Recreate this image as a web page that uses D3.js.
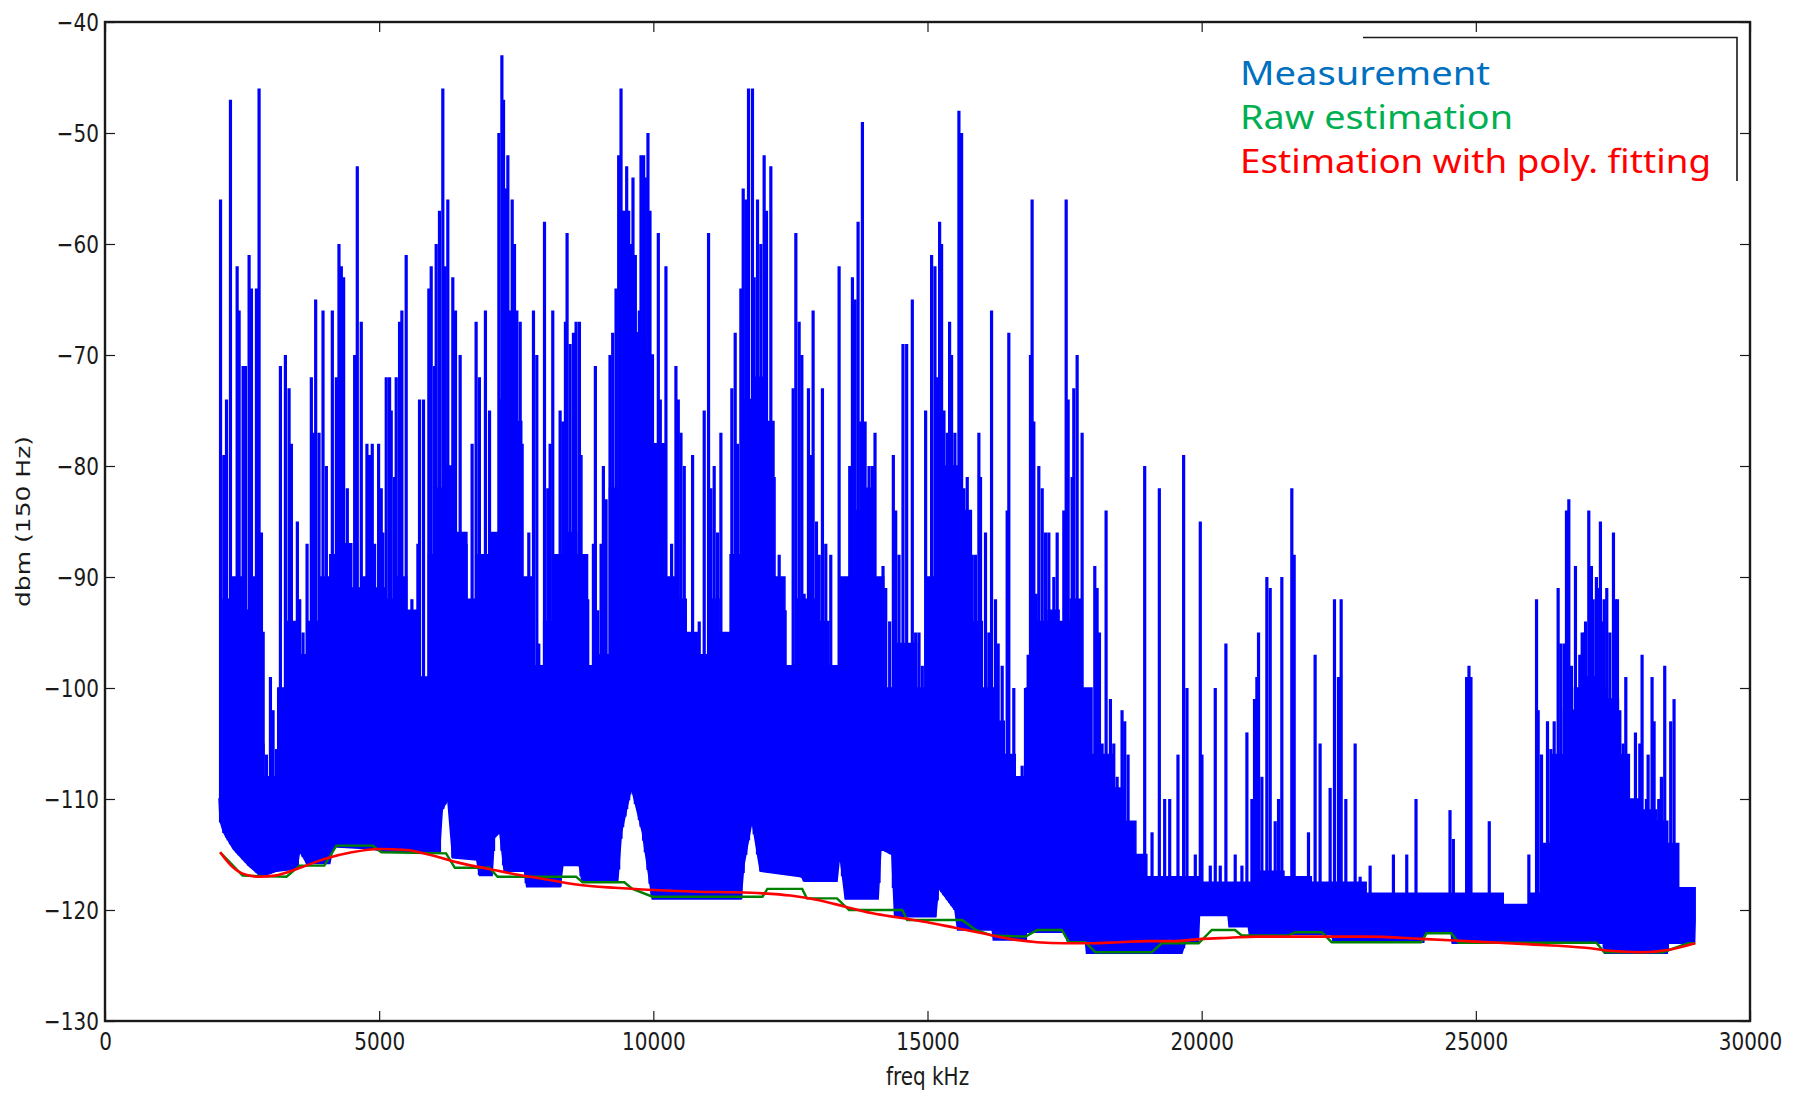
<!DOCTYPE html>
<html>
<head>
<meta charset="utf-8">
<script src="https://cdn.jsdelivr.net/npm/d3@7"></script>
<style>
  html, body { margin: 0; padding: 0; background: #fff; }
  svg { display: block; }
  .tick text { font-family: "DejaVu Sans", sans-serif; font-size: 25px; fill: #1a1a1a; }
  .tick line { stroke: #1a1a1a; stroke-width: 1.2; }
</style>
</head>
<body>
<svg id="chart" width="1793" height="1097"></svg>
<script>
// ---- data (freq kHz, dBm) ----
const xTicks = [0, 5000, 10000, 15000, 20000, 25000, 30000];
const yTicks = [-130, -120, -110, -100, -90, -80, -70, -60, -50, -40];

const legendLabels = ["Measurement", "Raw estimation", "Estimation with poly. fitting"];
const legendColors = ["#0070c0", "#00b050", "#ff0000"];

// bottom edge of the blue measurement trace
const measFloor = [[2080,-110],[2100,-112],[2160,-113],[2340,-114.5],[2620,-116],[2850,-117],[3130,-116.5],[3500,-116.3],[3550,-114.7],[3680,-115.8],[4100,-115.8],[4160,-114.3],[4890,-114.5],[5100,-114.8],[6100,-114.8],[6150,-111],[6250,-110],[6340,-115.3],[6780,-115.5],[6830,-116.9],[7060,-116.9],[7100,-113.5],[7200,-113],[7280,-116.5],[7650,-116.5],[7690,-117.9],[8300,-117.9],[8350,-116],[8650,-116],[8700,-117.5],[9350,-117.5],[9420,-113],[9600,-109],[9800,-113],[9980,-119],[11600,-119],[11650,-116],[11800,-112],[11950,-116.5],[12700,-117],[12750,-117.4],[13350,-117.4],[13400,-115],[13500,-119],[14100,-119],[14150,-114.5],[14350,-115],[14400,-120.6],[15150,-120.6],[15200,-118],[15500,-120],[15550,-121.8],[16180,-121.8],[16200,-122.7],[16790,-122.7],[16800,-122],[17500,-122],[17550,-122.8],[17880,-122.8],[17900,-123.9],[19640,-123.9],[19700,-123],[19940,-123],[19960,-120.5],[20480,-120.5],[20500,-121.5],[20850,-121.5],[20870,-122.2],[22370,-122.2],[22400,-122.9],[24050,-122.9],[24070,-122.1],[24550,-122.1],[24570,-123],[27330,-123],[27350,-123.9],[28490,-123.9],[28510,-123],[28990,-123],[29000,-121]];

// top of the solid (dense) part of the measurement trace
const measBand = [[2080,-110],[2150,-92],[2300,-90],[2500,-93],[2650,-90],[2800,-95],[2900,-108],[3000,-108],[3150,-100],[3300,-94],[3500,-97],[3700,-94],[3900,-90],[4100,-88],[4300,-87],[4500,-91],[4700,-90],[4900,-91],[5100,-92],[5300,-90],[5500,-93],[5700,-99],[5900,-88],[6000,-82],[6200,-80],[6400,-86],[6600,-92],[6800,-88],[7000,-86],[7200,-74],[7400,-76],[7600,-90],[7800,-98],[8000,-94],[8200,-88],[8400,-86],[8600,-88],[8800,-98],[9000,-97],[9200,-82],[9400,-70],[9600,-68],[9800,-70],[10000,-78],[10200,-90],[10400,-92],[10600,-95],[10800,-97],[11000,-92],[11200,-95],[11400,-88],[11600,-74],[11800,-72],[12000,-76],[12200,-90],[12400,-98],[12600,-92],[12800,-92],[13000,-94],[13200,-98],[13400,-90],[13600,-84],[13800,-82],[14000,-90],[14200,-100],[14400,-96],[14600,-96],[14800,-100],[15000,-90],[15200,-80],[15400,-80],[15600,-84],[15800,-94],[16000,-100],[16200,-103],[16400,-106],[16600,-108],[16800,-100],[17000,-94],[17200,-93],[17400,-94],[17600,-92],[17800,-100],[18000,-106],[18200,-106],[18400,-109],[18600,-112],[18800,-115],[19000,-117],[19500,-117],[20000,-117.5],[20500,-117.5],[21000,-116.5],[21500,-117],[22000,-117.5],[22500,-117.5],[23000,-118.5],[25000,-118.5],[25500,-119.5],[26000,-118.5],[26200,-114],[26400,-106],[26600,-102],[26800,-100],[27000,-99],[27200,-100],[27400,-101],[27600,-106],[27800,-110],[28000,-111],[28300,-112],[28500,-114],[28700,-118],[29000,-120]];

// individual spike tips
const measPeaks = [[2107,-56],[2167,-79],[2216,-74],[2246,-94],[2288,-47],[2410,-62],[2446,-66],[2519,-71],[2562,-71],[2628,-61],[2671,-64],[2762,-64],[2810,-46],[2853,-86],[2883,-105],[2944,-106],[3017,-99],[3065,-102],[3126,-105.5],[3199,-71],[3290,-70],[3357,-73],[3399,-78],[3460,-103],[3508,-85],[3551,-92],[3612,-95],[3685,-87],[3763,-72],[3806,-77],[3842,-65],[3903,-77],[3976,-66],[4037,-80],[4146,-66],[4219,-72],[4267,-60],[4310,-62],[4352,-63],[4370,-100],[4419,-82],[4462,-88],[4553,-70],[4601,-53],[4674,-67],[4716,-95],[4777,-78],[4826,-79],[4874,-78],[4917,-87],[4990,-78],[5038,-82],[5068,-86],[5129,-72],[5190,-72],[5220,-75],[5281,-81],[5311,-72],[5372,-67],[5414,-66],[5493,-61],[5536,-99],[5597,-92],[5706,-87],[5736,-74],[5809,-74],[5906,-64],[5949,-62],[6010,-71],[6040,-60],[6100,-57],[6161,-46],[6203,-62],[6252,-56],[6343,-63],[6392,-66],[6477,-70],[6586,-87],[6695,-78],[6768,-67],[6828,-72],[6938,-66],
  [7013,-75],[7086,-87],[7183,-50],[7238,-43],[7268,-47],[7304,-55],[7347,-52],[7389,-66],[7426,-56],[7468,-60],[7511,-66],[7572,-67],[7608,-78],[7681,-103],[7729,-86],[7772,-102],[7814,-66],[7875,-70],[7911,-96],[7954,-108],[8015,-58],[8075,-82],[8118,-78],[8166,-66],[8239,-101],[8300,-75],[8349,-76],[8397,-67],[8427,-59],[8482,-69],[8543,-68],[8591,-67],[8652,-67],[8682,-79],[8761,-99],[8804,-92],[8864,-100],[8907,-87],[8943,-71],[8986,-93],[9047,-87],[9089,-80],[9138,-83],[9210,-70],[9259,-68],[9320,-64],[9368,-52],[9411,-46],[9441,-57],[9484,-57],[9514,-53],[9550,-57],[9593,-60],[9629,-54],[9672,-61],[9745,-66],[9775,-52],[9823,-52],[9854,-54],[9902,-50],[9939,-57],[9975,-70],[10018,-95],[10091,-59],[10127,-74],[10169,-78],[10230,-62],[10291,-90],[10333,-87],[10412,-71],[10455,-74],[10504,-77],[10564,-80],[10655,-98],[10716,-79],[10777,-96],[10837,-94],[10928,-75],[11007,-59],[11050,-82],[11110,-80],[11171,-86],[11232,-77],[11293,-98],[11335,-101],[11432,-73],[11493,-68],[11535,-78],[11596,-64],[11639,-55],[11687,-56],[11736,-46],[11808,-46],[11839,-63],[11900,-56],[11961,-60],[12021,-52],[12064,-57],
  [12143,-53],[12204,-81],[12295,-88],[12344,-95],[12404,-93],[12477,-104],[12550,-73],[12599,-59],[12659,-67],[12708,-70],[12750,-91.5],[12829,-73],[12872,-79],[12914,-66],[12975,-85],[13024,-88],[13084,-73],[13145,-87],[13236,-88],[13297,-99],[13388,-62],[13449,-92],[13521,-91],[13582,-80],[13631,-63],[13679,-65],[13734,-58],[13782,-76],[13813,-49],[13862,-76],[13934,-80],[13995,-80],[14043,-77],[14116,-103],[14189,-89],[14238,-91],[14310,-94],[14377,-79],[14420,-84],[14480,-88],[14553,-69],[14620,-69],[14723,-65],[14784,-95],[14845,-95],[14905,-98],[14966,-75],[15027,-93],[15075,-61],[15136,-62],[15178,-72],[15221,-58],[15257,-60],[15300,-75],[15361,-77],[15403,-67],[15439,-70],[15500,-77],[15573,-48],[15622,-50],[15664,-82],[15725,-81],[15816,-88],[15876,-88],[15937,-77],[15967,-81],[16058,-86],[16119,-95],[16168,-66],[16240,-92],[16289,-96],[16362,-98],[16453,-84],[16483,-68],[16574,-100],[16665,-108],[16726,-107],[16787,-100],[16836,-97],[16878,-70],[16908,-56],[16939,-76],[16981,-91.5],[17030,-80],
  [17092,-82],[17153,-86],[17213,-86],[17262,-97],[17304,-90],[17365,-86],[17426,-102],[17486,-84],[17529,-56],[17565,-74],[17638,-81],[17668,-73],[17729,-70],[17760,-101],[17820,-77],[17881,-104],[17941,-101],[18051,-89],[18093,-91],[18136,-95],[18184,-105],[18257,-84],[18336,-101],[18397,-105],[18458,-108],[18548,-102],[18597,-103],[18658,-106],[18852,-115],[18961,-80],[19095,-113],[19228,-82],[19325,-110],[19417,-110],[19568,-106],[19671,-79],[19732,-100],[19884,-115],[19975,-85],[20005,-106],[20157,-116],[20248,-100],[20339,-116],[20442,-96],[20612,-115],[20734,-116],[20825,-104],[20916,-110],[20964,-101],[21007,-99],[21037,-95],[21098,-108],[21189,-90],[21250,-91],[21341,-112],[21402,-110],[21462,-90],[21644,-82],[21687,-88],[21948,-113],[22069,-97],[22160,-105],
  [22343,-109],[22422,-92],[22495,-99],[22544,-92],[22629,-110],[22799,-105],[22890,-117],[23072,-116],[23497,-115],[23740,-115],[23909,-110],[24529,-111],[24590,-113.6],[24832,-99],[24875,-98],[24911,-99],[25245,-112],[25967,-115],[26107,-92],[26137,-102],[26198,-106],[26307,-103],[26368,-105.5],[26429,-103],[26501,-91],[26550,-96],[26611,-96],[26653,-84],[26696,-83],[26744,-98],[26817,-89],[26896,-97],[26939,-95],[26981,-95],[27001,-94],[27060,-84],[27108,-89],[27140,-92],[27199,-90],[27231,-91],[27272,-85],[27304,-94],[27340,-92],[27388,-91],[27444,-95],[27510,-86],[27547,-92],[27583,-92],[27626,-102],[27656,-108],[27686,-105],[27735,-99],[27777,-111],[27838,-111],[27911,-104],[27990,-105],[28032,-97],[28081,-114],[28111,-110],[28142,-106],[28214,-99],[28251,-103],[28293,-115],[28336,-110],[28384,-108],[28445,-98],[28494,-115],[28554,-103],[28615,-101],[28658,-115],[28749,-121],[28797,-120],[28907,-119]];

// green: raw estimation
const rawEstimation = [[2100,-114.8],[2510,-116.9],[3310,-117],[3550,-116],[4000,-116],[4220,-114.2],[4880,-114.2],[5040,-114.8],[6220,-114.9],[6380,-116.2],[7010,-116.2],[7160,-117],[8590,-117],[8710,-117.5],[9470,-117.5],[9620,-118.1],[9985,-118.8],[11990,-118.8],[12080,-118.1],[12715,-118.1],[12800,-118.95],[13350,-118.95],[13570,-120],[14540,-120],[14630,-120.9],[15630,-120.9],[15880,-121.8],[16180,-122.3],[16790,-122.4],[17000,-121.8],[17450,-121.8],[17580,-122.9],[17880,-122.9],[18060,-123.8],[19090,-123.8],[19270,-123],[19945,-123],[20185,-121.8],[20610,-121.8],[20730,-122.3],[21585,-122.3],[21707,-122],[22190,-122],[22370,-122.9],[24000,-122.9],[24100,-122.1],[24550,-122.1],[24690,-122.95],[27200,-122.95],[27340,-123.8],[28410,-123.8],[28870,-123],[29000,-123]];

// red: estimation with polynomial fitting
const polyEstimation = [[2100,-114.8],[2300,-116],[2500,-116.7],[2800,-117],[3100,-116.9],[3500,-116.3],[4000,-115.4],[4500,-114.8],[5000,-114.5],[5500,-114.6],[5900,-115],[6500,-115.8],[7000,-116.3],[7500,-116.8],[8000,-117.2],[8600,-117.7],[9300,-118],[10000,-118.2],[10800,-118.35],[11500,-118.4],[12000,-118.5],[12500,-118.7],[13000,-119.1],[13500,-119.7],[14000,-120.3],[14500,-120.7],[15000,-121.1],[15500,-121.6],[16000,-122.1],[16500,-122.6],[17000,-122.9],[17500,-123],[18000,-123],[18500,-122.9],[19000,-122.8],[19500,-122.8],[20000,-122.6],[20500,-122.5],[21000,-122.4],[22000,-122.4],[23000,-122.4],[24000,-122.6],[25000,-122.85],[26000,-123.1],[27000,-123.4],[27500,-123.7],[28000,-123.8],[28500,-123.6],[29000,-123]];

// ---- chart ----
const svg = d3.select("#chart");
const plotL = 105, plotR = 1750, plotT = 22, plotB = 1021;
const squeeze = 0.8;  // the original picture is narrowed horizontally

const x = d3.scaleLinear().domain([0, 30000]).range([plotL, plotR]);
const y = d3.scaleLinear().domain([-130, -40]).range([plotB, plotT]);

svg.append("defs").append("clipPath").attr("id", "clip")
  .append("rect").attr("x", plotL).attr("y", plotT)
  .attr("width", plotR - plotL).attr("height", plotB - plotT);

const plot = svg.append("g").attr("clip-path", "url(#clip)");

const floorAt = function(f) {
  const i = d3.bisector(d => d[0]).left(measFloor, f);
  if (i <= 0) return measFloor[0][1];
  if (i >= measFloor.length) return measFloor[measFloor.length - 1][1];
  const a = measFloor[i - 1], b = measFloor[i];
  return a[1] + (b[1] - a[1]) * (f - a[0]) / (b[0] - a[0]);
};

// solid body of the measurement: stepped top, floor underneath
const topPath = d3.line().curve(d3.curveStepAfter)
  .x(d => x(d[0])).y(d => y(d[1]))(measBand);
const floorPath = d3.line()
  .x(d => x(d[0])).y(d => y(d[1]))(measFloor.slice().reverse());
plot.append("path")
  .attr("d", topPath + floorPath.replace(/^M/, "L") + "Z")
  .attr("fill", "#0000ff")
  .attr("stroke", "#0000ff")
  .attr("stroke-width", 1.5);

// spikes
plot.append("g")
  .selectAll("line")
  .data(measPeaks)
  .enter()
  .append("line")
  .attr("x1", d => x(d[0]))
  .attr("x2", d => x(d[0]))
  .attr("y1", d => y(floorAt(d[0])))
  .attr("y2", d => y(d[1]))
  .attr("stroke", "#0000ff")
  .attr("stroke-width", 3.2);

// estimation curves
plot.append("path")
  .datum(rawEstimation)
  .attr("fill", "none")
  .attr("stroke", "#008000")
  .attr("stroke-width", 2.4)
  .attr("d", d3.line().x(d => x(d[0])).y(d => y(d[1])));

plot.append("path")
  .datum(polyEstimation)
  .attr("fill", "none")
  .attr("stroke", "#ff0000")
  .attr("stroke-width", 2.6)
  .attr("d", d3.line().curve(d3.curveMonotoneX).x(d => x(d[0])).y(d => y(d[1])));

// axes: ticks inward on all four sides
const axisB = svg.append("g").attr("transform", `translate(0,${plotB})`)
  .call(d3.axisBottom(x).tickValues(xTicks).tickFormat(d3.format("d")).tickSize(-10).tickPadding(11.5));
const axisL = svg.append("g").attr("transform", `translate(${plotL},0)`)
  .call(d3.axisLeft(y).tickValues(yTicks).tickSize(-10).tickPadding(7.5));
svg.append("g").attr("transform", `translate(0,${plotT})`)
  .call(d3.axisTop(x).tickValues(xTicks).tickFormat("").tickSize(-10));
svg.append("g").attr("transform", `translate(${plotR},0)`)
  .call(d3.axisRight(y).tickValues(yTicks).tickFormat("").tickSize(-10));

svg.selectAll(".domain").remove();
axisB.selectAll("text").attr("transform", `scale(${squeeze},1)`);
axisL.selectAll("text").attr("transform", `scale(${squeeze},1)`);

svg.append("rect")
  .attr("x", plotL).attr("y", plotT)
  .attr("width", plotR - plotL).attr("height", plotB - plotT)
  .attr("fill", "none")
  .attr("stroke", "#1a1a1a")
  .attr("stroke-width", 2.4);

// axis titles
svg.append("text")
  .attr("transform", `translate(${(plotL + plotR) / 2},1085) scale(${squeeze},1)`)
  .attr("text-anchor", "middle")
  .style("font-family", "DejaVu Sans, sans-serif")
  .style("font-size", "25px")
  .attr("fill", "#1a1a1a")
  .text("freq kHz");

svg.append("text")
  .attr("transform", `translate(30,${(plotT + plotB) / 2}) scale(${squeeze},1) rotate(-90)`)
  .attr("text-anchor", "middle")
  .style("font-family", "DejaVu Sans, sans-serif")
  .style("font-size", "25px")
  .attr("fill", "#1a1a1a")
  .text("dbm (150 Hz)");

// legend (frame partly hidden, as in the source)
const legend = svg.append("g");
legend.append("path")
  .attr("d", "M1363,37.5H1737V181")
  .attr("fill", "none")
  .attr("stroke", "#1a1a1a")
  .attr("stroke-width", 1.6);

const legendWidths = [250, 273, 471];
legend.selectAll("text")
  .data(legendLabels)
  .enter()
  .append("text")
  .attr("x", 1240)
  .attr("y", (d, i) => 85 + i * 44.2)
  .attr("textLength", (d, i) => legendWidths[i])
  .attr("lengthAdjust", "spacingAndGlyphs")
  .style("font-family", "Noto Sans, sans-serif")
  .style("font-size", "32px")
  .attr("fill", (d, i) => legendColors[i])
  .text(d => d);
</script>
</body>
</html>
